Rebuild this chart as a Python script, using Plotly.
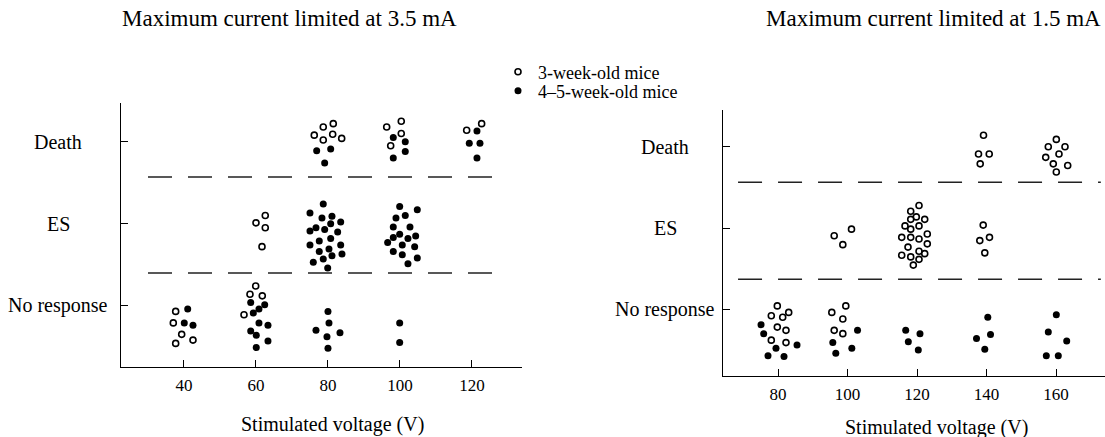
import plotly.graph_objects as go

# ---------------- data ----------------
responses = ["No response", "ES", "Death"]
left_voltages = [40, 60, 80, 100, 120]
right_voltages = [80, 100, 120, 140, 160]

# groups: (voltage, response, number of mice); jitter arrays follow group order
left_young_groups = [(40, "No response", 5), (60, "No response", 4), (60, "ES", 4),
                     (80, "Death", 6), (100, "Death", 4), (120, "Death", 2)]
left_young_jx = [-2.31, -2.97, -0.64, -2.31, 2.50,
                 -0.08, -1.67, 1.75, -3.33,
                 2.58, 0.00, 2.58, 1.67,
                 -3.81, -1.31, 1.47, 1.31, -1.31, 3.81,
                 -3.69, 0.36, 0.36, -2.58,
                 -1.47, 2.69]
left_young_jy = [-0.07, -0.21, -0.35, -0.46, -0.42,
                 0.24, 0.14, 0.12, -0.11,
                 0.10, 0.01, -0.05, -0.28,
                 0.08, 0.18, 0.22, 0.09, 0.02, 0.04,
                 0.18, 0.25, 0.10, -0.05,
                 0.14, 0.22]

left_old_groups = [(40, "No response", 3), (60, "No response", 10), (80, "No response", 6),
                   (100, "No response", 2), (80, "ES", 21), (100, "ES", 17),
                   (80, "Death", 3), (100, "Death", 4), (120, "Death", 4)]
left_old_jx = [1.03, 0.08, 2.50,
               -1.47, 2.42, 0.83, -0.75, 0.83, 3.33, -1.47, 0.08, 3.33, 0.08,
               0.00, 0.28, -3.33, 3.33, -0.28, 0.00,
               -0.08, -0.08,
               -1.31, -5.00, -1.67, 1.11, 3.53, 0.75, -3.33, -5.00, -0.92, 2.69, 0.75,
               -2.42, -5.00, 3.53, 0.28, -2.42, 1.11, 3.89, -1.31, -4.08, -0.08,
               -0.08, 4.81, -1.11, 1.47, -1.86, 2.78, -1.86, -0.08, -3.42, 2.22, 4.36,
               0.64, 4.08, -1.86, 0.64, 4.81, 2.22,
               -3.14, 0.75, -0.92,
               -1.86, 1.47, 1.47, -1.86,
               1.39, -0.75, 2.22, 1.39]
left_old_jy = [-0.04, -0.21, -0.24,
               0.04, 0.01, -0.04, -0.09, -0.21, -0.24, -0.31, -0.36, -0.43, -0.51,
               -0.07, -0.21, -0.30, -0.33, -0.38, -0.52,
               -0.21, -0.45,
               0.24, 0.13, 0.07, 0.09, 0.02, 0.00, -0.05, -0.09, -0.07, -0.10, -0.18,
               -0.21, -0.26, -0.26, -0.31, -0.34, -0.39, -0.37, -0.43, -0.47, -0.54,
               0.21, 0.17, 0.07, 0.10, -0.04, -0.04, -0.17, -0.13, -0.23, -0.18, -0.15,
               -0.26, -0.28, -0.34, -0.38, -0.42, -0.49,
               -0.11, -0.09, -0.26,
               0.05, 0.00, -0.12, -0.20,
               0.13, -0.02, -0.02, -0.20]

right_young_groups = [(80, "No response", 8), (100, "No response", 5), (100, "ES", 3),
                      (120, "ES", 20), (140, "ES", 4), (140, "Death", 4), (160, "Death", 8)]
right_young_jx = [-0.20, -1.93, 1.35, 3.08, -0.20, 2.30, -1.93, 2.30,
                  -4.52, -0.49, -1.35, -3.83, -1.35,
                  1.15, -3.83, -1.35,
                  0.58, -1.81, -0.20, -1.81, 2.22, -3.45, 0.58, -1.81, -4.40, -1.81,
                  0.58, 2.96, -2.59, 2.96, 0.58, 2.22, -4.40, -1.81, 0.58, -1.06,
                  -0.95, -1.93, 0.86, -0.49,
                  -0.86, -2.30, 0.78, -1.81,
                  0.09, -2.22, 2.59, 0.86, -2.96, -0.78, 3.37, 0.09]
right_young_jy = [0.05, -0.07, -0.09, -0.03, -0.21, -0.25, -0.37, -0.40,
                  -0.03, 0.05, -0.11, -0.25, -0.29,
                  -0.01, -0.09, -0.20,
                  0.28, 0.21, 0.14, 0.11, 0.11, 0.03, 0.03, -0.01, -0.11, -0.11,
                  -0.13, -0.07, -0.23, -0.19, -0.28, -0.31, -0.33, -0.35, -0.38, -0.45,
                  0.04, -0.15, -0.11, -0.30,
                  0.14, -0.09, -0.09, -0.21,
                  0.09, 0.00, 0.00, -0.09, -0.13, -0.21, -0.23, -0.31]

right_old_groups = [(80, "No response", 6), (100, "No response", 4), (120, "No response", 4),
                    (140, "No response", 4), (160, "No response", 5)]
right_old_jx = [-4.89, -4.12, -0.58, 5.47, -2.88, 1.73,
                2.88, -4.23, 1.24, -3.37,
                -3.25, 0.86, -2.50, 0.37,
                0.37, -2.88, 1.15, -0.49,
                0.09, -2.22, 3.08, -2.79, 0.66]
right_old_jy = [-0.18, -0.29, -0.47, -0.43, -0.56, -0.57,
                -0.25, -0.40, -0.47, -0.53,
                -0.25, -0.29, -0.39, -0.49,
                -0.09, -0.35, -0.30, -0.48,
                -0.06, -0.27, -0.38, -0.56, -0.56]

young_label = "3-week-old mice"
old_label = "4\u20135-week-old mice"
left_title = "Maximum current limited at 3.5 mA"
right_title = "Maximum current limited at 1.5 mA"
x_title = "Stimulated voltage (V)"


def expand(groups, jx, jy):
    xs, ys = [], []
    i = 0
    for v, r, n in groups:
        lvl = responses.index(r)
        for _ in range(n):
            xs.append(v + jx[i])
            ys.append(lvl + jy[i])
            i += 1
    return xs, ys


FONT = "Liberation Serif, Times New Roman, serif"
open_marker = dict(symbol="circle", size=6, color="white", line=dict(color="black", width=1.6))
fill_marker = dict(symbol="circle", size=7, color="black", line=dict(color="black", width=0))

fig = go.Figure()
x, y = expand(left_young_groups, left_young_jx, left_young_jy)
fig.add_trace(go.Scatter(x=x, y=y, mode="markers", marker=open_marker, name=young_label,
                         xaxis="x", yaxis="y", showlegend=True, legend="legend"))
x, y = expand(left_old_groups, left_old_jx, left_old_jy)
fig.add_trace(go.Scatter(x=x, y=y, mode="markers", marker=fill_marker, name=old_label,
                         xaxis="x", yaxis="y", showlegend=True, legend="legend2"))
x, y = expand(right_young_groups, right_young_jx, right_young_jy)
fig.add_trace(go.Scatter(x=x, y=y, mode="markers", marker=open_marker, name=young_label,
                         xaxis="x2", yaxis="y2", showlegend=False))
x, y = expand(right_old_groups, right_old_jx, right_old_jy)
fig.add_trace(go.Scatter(x=x, y=y, mode="markers", marker=fill_marker, name=old_label,
                         xaxis="x2", yaxis="y2", showlegend=False))

W, H = 1105, 437
axis_common = dict(showgrid=False, zeroline=False, showline=True, linecolor="black",
                   linewidth=1.3, ticks="inside", ticklen=7, tickwidth=1.3,
                   tickcolor="black", tickfont=dict(family=FONT, size=17, color="black"))
legend_common = dict(xanchor="left", yanchor="middle",
                     font=dict(family=FONT, size=18, color="black"),
                     bgcolor="rgba(0,0,0,0)", itemwidth=30, tracegroupgap=0)

fig.update_layout(
    width=W, height=H, autosize=False,
    margin=dict(l=0, r=0, t=0, b=0),
    paper_bgcolor="white", plot_bgcolor="white",
    font=dict(family=FONT, color="black"),
    xaxis=dict(domain=[121 / W, 522 / W], range=[22.5, 133.9], tickvals=left_voltages,
               anchor="y", ticklabelstandoff=2, **axis_common),
    yaxis=dict(domain=[1 - 367 / H, 1 - 103 / H], range=[-0.748, 2.472], tickvals=[0, 1, 2],
               showticklabels=False, anchor="x", **axis_common),
    xaxis2=dict(domain=[723 / W, 1.0], range=[64.17, 174.1], tickvals=right_voltages,
                anchor="y2", ticklabelstandoff=2, **axis_common),
    yaxis2=dict(domain=[1 - 376 / H, 1 - 110 / H], range=[-0.809, 2.45], tickvals=[0, 1, 2],
                showticklabels=False, anchor="x2", **axis_common),
    legend=dict(x=498 / W, y=1 - 72 / H, **legend_common),
    legend2=dict(x=498 / W, y=1 - 91 / H, **legend_common),
    showlegend=True,
)

dash = dict(color="#222222", width=1.5, dash="24px,16px")
fig.add_shape(type="line", xref="x", yref="y", x0=30, x1=128.9, y0=0.40, y1=0.40, line=dash)
fig.add_shape(type="line", xref="x", yref="y", x0=30, x1=128.9, y0=1.57, y1=1.57, line=dash)
fig.add_shape(type="line", xref="x2", yref="y2", x0=68.5, x1=172.9, y0=0.376, y1=0.376, line=dash)
fig.add_shape(type="line", xref="x2", yref="y2", x0=68.5, x1=172.9, y0=1.564, y1=1.564, line=dash)

ann = []
for i, r in enumerate(responses):
    ann.append(dict(text=r, x=58 / W, xref="paper", y=i, yref="y", xanchor="center",
                    yanchor="middle", showarrow=False, font=dict(family=FONT, size=20)))
    ann.append(dict(text=r, x=665 / W, xref="paper", y=i, yref="y2", xanchor="center",
                    yanchor="middle", showarrow=False, font=dict(family=FONT, size=20)))
ann.append(dict(text=x_title, x=332 / W, y=1 - 424 / H, xref="paper", yref="paper",
                xanchor="center", yanchor="middle", showarrow=False, font=dict(family=FONT, size=20)))
ann.append(dict(text=x_title, x=936 / W, y=1 - 427 / H, xref="paper", yref="paper",
                xanchor="center", yanchor="middle", showarrow=False, font=dict(family=FONT, size=20)))
ann.append(dict(text=left_title, x=120 / W, y=1 - 19 / H, xref="paper", yref="paper",
                xanchor="left", yanchor="middle", showarrow=False, font=dict(family=FONT, size=23)))
ann.append(dict(text=right_title, x=1103 / W, y=1 - 19 / H, xref="paper", yref="paper",
                xanchor="right", yanchor="middle", showarrow=False, font=dict(family=FONT, size=23)))
fig.update_layout(annotations=ann)

fig.write_html("out.html", config={"displayModeBar": False},
               post_script="document.body.style.margin='0';")
